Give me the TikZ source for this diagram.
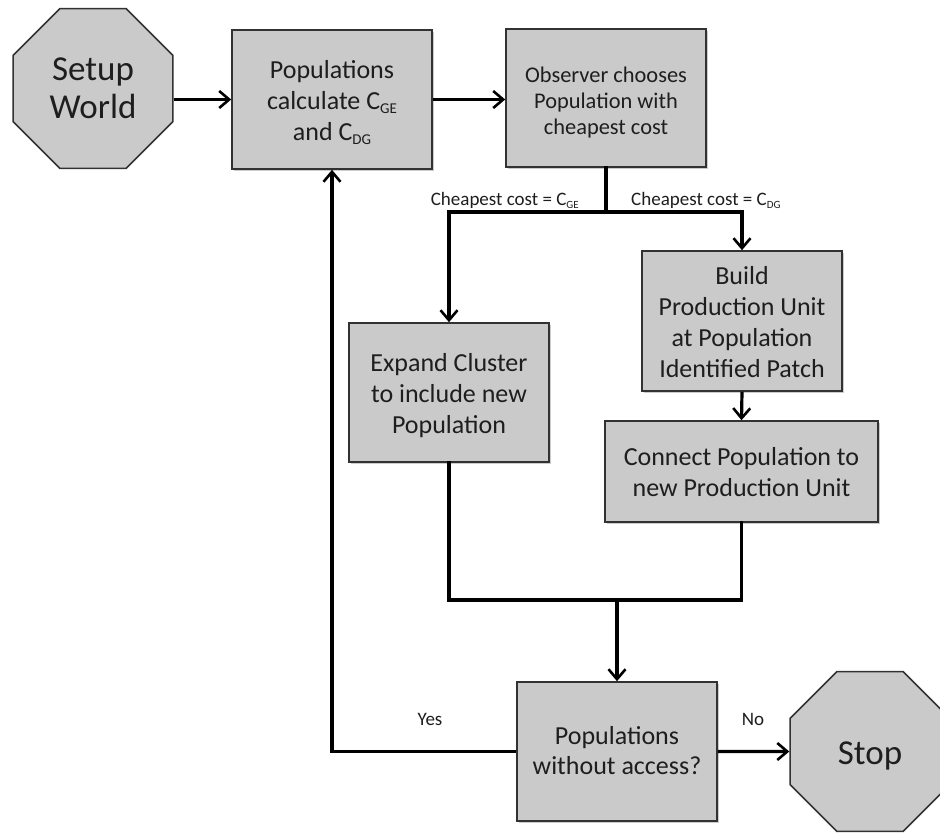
\documentclass[tikz,border=0pt]{standalone}
\usepackage{fontspec}
\setmainfont{Carlito}
\usetikzlibrary{arrows.meta,shapes.geometric,shadows}
\definecolor{boxfill}{RGB}{202,202,202}
\definecolor{boxline}{RGB}{50,50,50}
\definecolor{txt}{RGB}{30,30,30}
\newcommand\sbs[3]{\raisebox{-#1}{\fontsize{#2}{#2}\selectfont #3}}
\newcommand\lowtext[2]{\raisebox{-#1}[\height][\depth]{\begin{tabular}{@{}c@{}}#2\end{tabular}}}
\begin{document}
\begin{tikzpicture}[x=1pt,y=-1pt,
  procbox/.style={rectangle,draw=boxline,line width=1.6pt,fill=boxfill,inner sep=0pt,text=txt,font=\fontsize{26}{31}\selectfont,
    drop shadow={shadow xshift=1.5pt,shadow yshift=-1.5pt,opacity=0.2,fill=black}},
  octbox/.style={regular polygon,regular polygon sides=8,draw=boxline,line width=1.6pt,fill=boxfill,inner sep=0pt,minimum size=173pt,text=txt,font=\fontsize{35}{38}\selectfont},
  conn/.style={line width=3.2pt,black,line cap=rect},
  arr/.style={line width=3.2pt,black,-{Straight Barb[length=10pt,width=17pt,line width=2.6pt]}},
  lbl/.style={text=txt,font=\fontsize{19}{22}\selectfont,inner sep=0pt}]
\clip (0,0) rectangle (940,833);
\fill[white] (0,0) rectangle (940,833);

% nodes
\node[octbox] (setup) at (93,88.5) {\lowtext{3pt}{Setup\\World}};
\node[procbox,minimum width=200pt,minimum height=139pt] (pop) at (332,99.5) {\lowtext{4pt}{Populations\\calculate C\sbs{4pt}{15}{GE}\\and C\sbs{4pt}{15}{DG}}};
\node[procbox,minimum width=200pt,minimum height=138pt,font=\fontsize{22.4}{26}\selectfont] (obs) at (606,98) {\lowtext{5pt}{Observer chooses\\Population with\\cheapest cost}};
\node[procbox,minimum width=200pt,minimum height=139pt] (exp) at (449,392.5) {\lowtext{4pt}{Expand Cluster\\to include new\\Population}};
\node[procbox,minimum width=200pt,minimum height=140pt] (bld) at (742,321) {\lowtext{4pt}{Build\\Production Unit\\at Population\\Identified Patch}};
\node[procbox,minimum width=273pt,minimum height=101pt] (cnt) at (741.5,471.5) {\lowtext{3pt}{Connect Population to\\new Production Unit}};
\node[procbox,minimum width=200pt,minimum height=139pt,font=\fontsize{26}{30}\selectfont] (dec) at (617,751.5) {\lowtext{2pt}{Populations\\without access?}};
\node[octbox] (stop) at (870,751.5) {\lowtext{5pt}{Stop}};

% labels
\node[lbl,anchor=base east] (lge) at (579,205) {Cheapest cost = C\sbs{3pt}{11}{GE}};
\node[lbl,anchor=base west] (ldg) at (631,205) {Cheapest cost = C\sbs{3pt}{11}{DG}};
\node[lbl] (yes) at (430,719) {Yes};
\node[lbl] (no) at (753,719) {No};

% junction points
\coordinate (br) at (606,212);
\coordinate (mg) at (617,600);

% connectors
\draw[arr] (setup.east |- pop.west) -- (pop.west);
\draw[arr] (pop.east) -- (pop.east -| obs.west);
\draw[conn] (obs.south) -- (br);
\draw[arr] (br) -| (exp.north);
\draw[arr] (br) -| (bld.north);
\draw[arr] (bld.south) -- (cnt.north);
\draw[conn] (exp.south) |- (mg);
\draw[conn] (cnt.south) |- (mg);
\draw[arr] (mg) -- (dec.north);
\draw[arr] (dec.west) -| (pop.south);
\draw[arr] (dec.east) -- (stop.west);
\end{tikzpicture}
\end{document}
